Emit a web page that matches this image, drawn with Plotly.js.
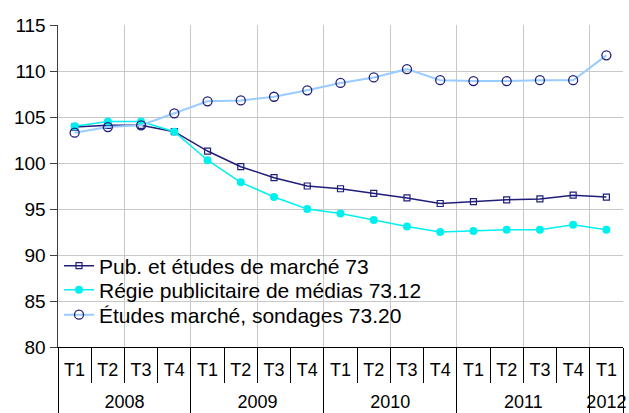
<!DOCTYPE html>
<html>
<head>
<meta charset="utf-8">
<script src="https://cdn.plot.ly/plotly-3.0.1.min.js"></script>
<style>html,body{margin:0;padding:0;background:#fff;}#chart{width:629px;height:413px;}</style>
</head>
<body>
<div id="chart"></div>
<script>
const years = ['2008','2008','2008','2008','2009','2009','2009','2009','2010','2010','2010','2010','2011','2011','2011','2011','2012'];
const quarters = ['T1','T2','T3','T4','T1','T2','T3','T4','T1','T2','T3','T4','T1','T2','T3','T4','T1'];
const pub = [103.9,104.1,104.1,103.4,101.3,99.6,98.4,97.5,97.2,96.7,96.2,95.6,95.8,96.0,96.1,96.5,96.3];
const regie = [104.0,104.5,104.5,103.4,100.3,97.9,96.3,95.0,94.5,93.8,93.1,92.5,92.6,92.75,92.75,93.3,92.75];
const etudes = [103.3,103.9,104.1,105.4,106.7,106.8,107.2,107.9,108.7,109.3,110.2,109.0,108.9,108.9,109.0,109.0,111.7];
const names = ['Pub. et études de marché 73','Régie publicitaire de médias 73.12','Études marché, sondages 73.20'];

const FONT = 'Liberation Sans, Arial, sans-serif';

// category positions (index of each quarter)
const idx = quarters.map(function (q, i) { return i; });
// year groups: label at centre of each group, dividers at group edges
const yearNames = [], yearCentres = [], yearEdges = [-0.5];
years.forEach(function (y, i) {
  if (i === 0 || years[i - 1] !== y) { yearNames.push(y); }
  if (i === years.length - 1 || years[i + 1] !== y) {
    const start = years.indexOf(y);
    yearCentres.push((start + i) / 2);
    yearEdges.push(i + 0.5);
  }
});
const xr = [-0.5, quarters.length - 0.5];
// vertical grid every two quarters, plus the right border
const gridVals = [];
for (let v = xr[0]; v < xr[1]; v += 2) gridVals.push(v);
gridVals.push(xr[1]);

const traces = [
  {x: idx, y: pub, name: names[0], type: 'scatter', mode: 'lines+markers', xaxis: 'x', legend: 'legend',
   line: {color: '#1f1f7a', width: 1.5},
   marker: {symbol: 'square-open', size: 6, color: '#1f1f7a', line: {width: 1.2}}},
  {x: idx, y: regie, name: names[1], type: 'scatter', mode: 'lines+markers', xaxis: 'x2', legend: 'legend2',
   line: {color: '#00f0f0', width: 1.5},
   marker: {symbol: 'circle', size: 8, color: '#00f0f0'}},
  {x: idx, y: etudes, name: names[2], type: 'scatter', mode: 'lines+markers', xaxis: 'x3', legend: 'legend3',
   line: {color: '#99ccff', width: 2},
   marker: {symbol: 'circle-open', size: 9, color: '#1f1f7a', line: {width: 1.3}}}
];

// plot area in pixels, used to place the legend rows and their white panel
const PX = {l: 58, r: 623, t: 25, b: 347};
function px2x(p) { return (p - PX.l) / (PX.r - PX.l); }
function px2y(p) { return (PX.b - p) / (PX.b - PX.t); }

function leg(yc) {
  return {x: px2x(59), y: px2y(yc), xanchor: 'left', yanchor: 'middle', bgcolor: 'rgba(0,0,0,0)',
          orientation: 'h', itemwidth: 30,
          font: {size: 21, family: FONT, color: '#000'}};
}

const layout = {
  width: 629, height: 413,
  margin: {l: 58, r: 6, t: 25, b: 66, pad: 0, autoexpand: false},
  paper_bgcolor: '#fff', plot_bgcolor: '#fff',
  font: {family: FONT, color: '#000'},
  showlegend: true,
  legend: leg(266), legend2: leg(290), legend3: leg(315),
  shapes: [{type: 'rect', xref: 'paper', yref: 'paper', layer: 'between',
            x0: px2x(62), x1: px2x(457), y0: px2y(334), y1: px2y(247),
            fillcolor: '#fff', line: {width: 0}}],
  // quarter labels + short separators
  xaxis: {type: 'linear', range: xr, automargin: false, tickmode: 'array', tickvals: idx, ticktext: quarters,
          ticks: '', showgrid: false, zeroline: false, ticklabelstandoff: 6,
          tickfont: {size: 18, family: FONT, color: '#000'},
          showline: true, linecolor: '#000', linewidth: 1,
          minor: {tick0: -0.5, dtick: 1, ticks: 'outside', ticklen: 35, tickcolor: '#000', tickwidth: 1, showgrid: false}},
  // year labels + long dividers
  xaxis2: {overlaying: 'x', anchor: 'y', side: 'bottom', type: 'linear', range: xr, automargin: false,
           tickmode: 'array', tickvals: yearCentres, ticktext: yearNames, ticks: '', showgrid: false,
           zeroline: false, showline: false, ticklabelstandoff: 42,
           tickfont: {size: 18, family: FONT, color: '#000'},
           minor: {tickmode: 'array', tickvals: yearEdges, ticks: 'outside', ticklen: 66, tickcolor: '#000', tickwidth: 1, showgrid: false}},
  // vertical grid
  xaxis3: {overlaying: 'x', anchor: 'y', side: 'bottom', type: 'linear', range: xr, automargin: false,
           tickmode: 'array', tickvals: gridVals,
           showgrid: true, gridcolor: '#c8c8c8', gridwidth: 1, showticklabels: false, ticks: '',
           zeroline: false, showline: false},
  yaxis: {range: [80, 115], automargin: false, dtick: 5, tick0: 80, ticks: 'outside', ticklen: 7, tickcolor: '#404040',
          showline: true, linecolor: '#404040', linewidth: 1.5, gridcolor: '#c8c8c8', gridwidth: 1,
          tickfont: {size: 19, family: FONT, color: '#000'}, zeroline: false}
};

Plotly.newPlot('chart', traces, layout, {staticPlot: true, displayModeBar: false});
</script>
</body>
</html>
